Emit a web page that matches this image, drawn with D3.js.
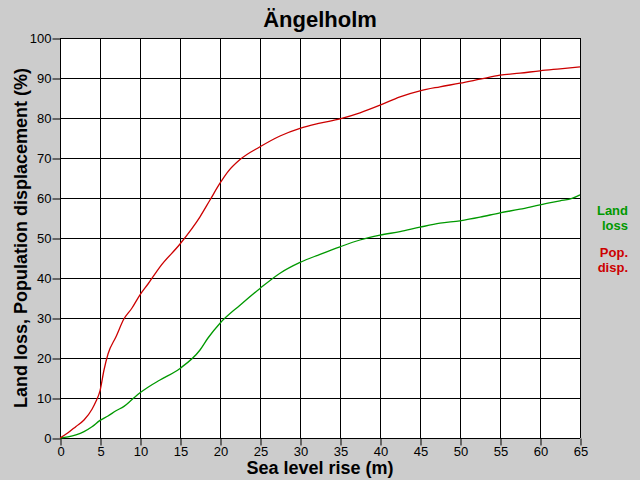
<!DOCTYPE html>
<head>
    <meta charset="utf-8">
    <script src="https://d3js.org/d3.v7.min.js"></script>
    <style>
        body { margin: 0; background: #cccccc; }
        text { font-family: "Liberation Sans", Arial, sans-serif; }
    </style>
</head>
<body>
    <script>
        // data
        const landX = [0, 1, 2, 3, 4, 5, 6, 7, 8, 9, 10, 11, 12.5, 15, 17.5, 18.5, 20, 22.5, 25, 27.5, 30, 32.5, 35, 37.5, 40, 42.5, 45, 47.5, 50, 52.5, 55, 57.5, 60, 62.5, 64, 65];
        const landLoss = [0, 0.3, 0.8, 1.6, 2.8, 4.4, 5.5, 6.8, 7.9, 9.6, 11.3, 12.7, 14.5, 17.4, 22, 25, 28.7, 33.2, 37.4, 41.2, 43.9, 45.9, 47.8, 49.5, 50.7, 51.6, 52.7, 53.7, 54.3, 55.2, 56.3, 57.2, 58.3, 59.3, 59.9, 60.8];
        const popX = [0, 1, 2, 3, 4, 4.5, 5, 5.5, 6, 7, 8, 9, 10, 11, 12.5, 15, 17.5, 18.75, 20, 21, 22.5, 25, 27.5, 30, 32.5, 35, 37.5, 40, 42.5, 45, 47.5, 50, 52.5, 55, 57.5, 60, 62.5, 65];
        const popDisp = [0, 1.3, 2.9, 4.5, 7.2, 9.2, 11.8, 17, 21, 25.3, 29.8, 32.5, 35.8, 38.5, 42.8, 48.5, 55.3, 59.5, 63.7, 66.6, 69.6, 72.8, 75.5, 77.4, 78.7, 79.8, 81.3, 83.2, 85.3, 86.8, 87.8, 88.7, 89.7, 90.7, 91.2, 91.8, 92.3, 92.8];
        const xTicks = d3.range(0, 66, 5);
        const yTicks = d3.range(0, 101, 10);

        const svg = d3.select("body")
            .append("svg")
            .attr("width", 640)
            .attr("height", 480);
        const margin = { top: 38, bottom: 42, left: 60, right: 60 };
        const width = 640 - margin.left - margin.right;
        const height = 480 - margin.top - margin.bottom;
        const chart = svg.append("g").attr("transform", `translate(${margin.left},${margin.top})`);

        const xScale = d3.scaleLinear().domain([0, 65]).range([0, width]);
        const yScale = d3.scaleLinear().domain([0, 100]).range([height, 0]);

        // plot area
        chart.append("rect")
            .attr("width", width)
            .attr("height", height)
            .attr("fill", "#ffffff");

        // grid lines
        chart.append("g")
            .selectAll("line")
            .data(xTicks)
            .join("line")
            .attr("x1", d => Math.round(xScale(d)) + 0.5)
            .attr("x2", d => Math.round(xScale(d)) + 0.5)
            .attr("y1", 0)
            .attr("y2", height)
            .attr("stroke", "#000");
        chart.append("g")
            .selectAll("line")
            .data(yTicks)
            .join("line")
            .attr("y1", d => Math.round(yScale(d)) + 0.5)
            .attr("y2", d => Math.round(yScale(d)) + 0.5)
            .attr("x1", 0)
            .attr("x2", width)
            .attr("stroke", "#000");

        // axes
        const xAxis = chart.append("g")
            .attr("transform", `translate(0.5,${height + 0.5})`)
            .call(d3.axisBottom(xScale).tickValues(xTicks).tickSize(7).tickSizeOuter(0));
        const yAxis = chart.append("g")
            .attr("transform", "translate(0.5,0.5)")
            .call(d3.axisLeft(yScale).tickValues(yTicks).tickSize(8).tickSizeOuter(0));
        [xAxis, yAxis].forEach(a => {
            a.select(".domain").remove();
            a.selectAll("line").attr("stroke", "#000");
            a.selectAll("text")
                .attr("fill", "#000")
                .style("font-size", "13px")
                .style("font-family", "'Liberation Sans', Arial, sans-serif");
        });
        xAxis.selectAll("text").attr("dy", "0.9em").attr("y", 6);
        yAxis.selectAll("text").attr("x", -9).attr("dy", "0.3em");

        // lines
        const lineLand = d3.line().x((d, i) => xScale(landX[i])).y(d => yScale(d)).curve(d3.curveMonotoneX);
        const linePop = d3.line().x((d, i) => xScale(popX[i])).y(d => yScale(d)).curve(d3.curveMonotoneX);

        chart.append("path")
            .datum(landLoss)
            .attr("fill", "none")
            .attr("stroke", "#009900")
            .attr("stroke-width", 1.3)
            .attr("d", lineLand);
        chart.append("path")
            .datum(popDisp)
            .attr("fill", "none")
            .attr("stroke", "#cc0000")
            .attr("stroke-width", 1.3)
            .attr("d", linePop);

        // titles
        svg.append("text")
            .attr("x", 320)
            .attr("y", 27)
            .attr("text-anchor", "middle")
            .style("font-size", "22px")
            .style("font-weight", "bold")
            .text("Ängelholm");
        svg.append("text")
            .attr("x", 320)
            .attr("y", 474)
            .attr("text-anchor", "middle")
            .style("font-size", "18px")
            .style("font-weight", "bold")
            .text("Sea level rise (m)");
        svg.append("text")
            .attr("transform", "translate(27,238) rotate(-90)")
            .attr("text-anchor", "middle")
            .style("font-size", "18px")
            .style("font-weight", "bold")
            .text("Land loss, Population displacement (%)");

        // legend
        const legend = [
            { lines: ["Land", "loss"], color: "#009900", y: 215 },
            { lines: ["Pop.", "disp."], color: "#cc0000", y: 257 }
        ];
        legend.forEach(l => {
            l.lines.forEach((t, i) => {
                svg.append("text")
                    .attr("x", 628)
                    .attr("y", l.y + i * 15)
                    .attr("text-anchor", "end")
                    .attr("fill", l.color)
                    .style("font-size", "13px")
                    .style("font-weight", "bold")
                    .text(t);
            });
        });
    </script>
</body>
